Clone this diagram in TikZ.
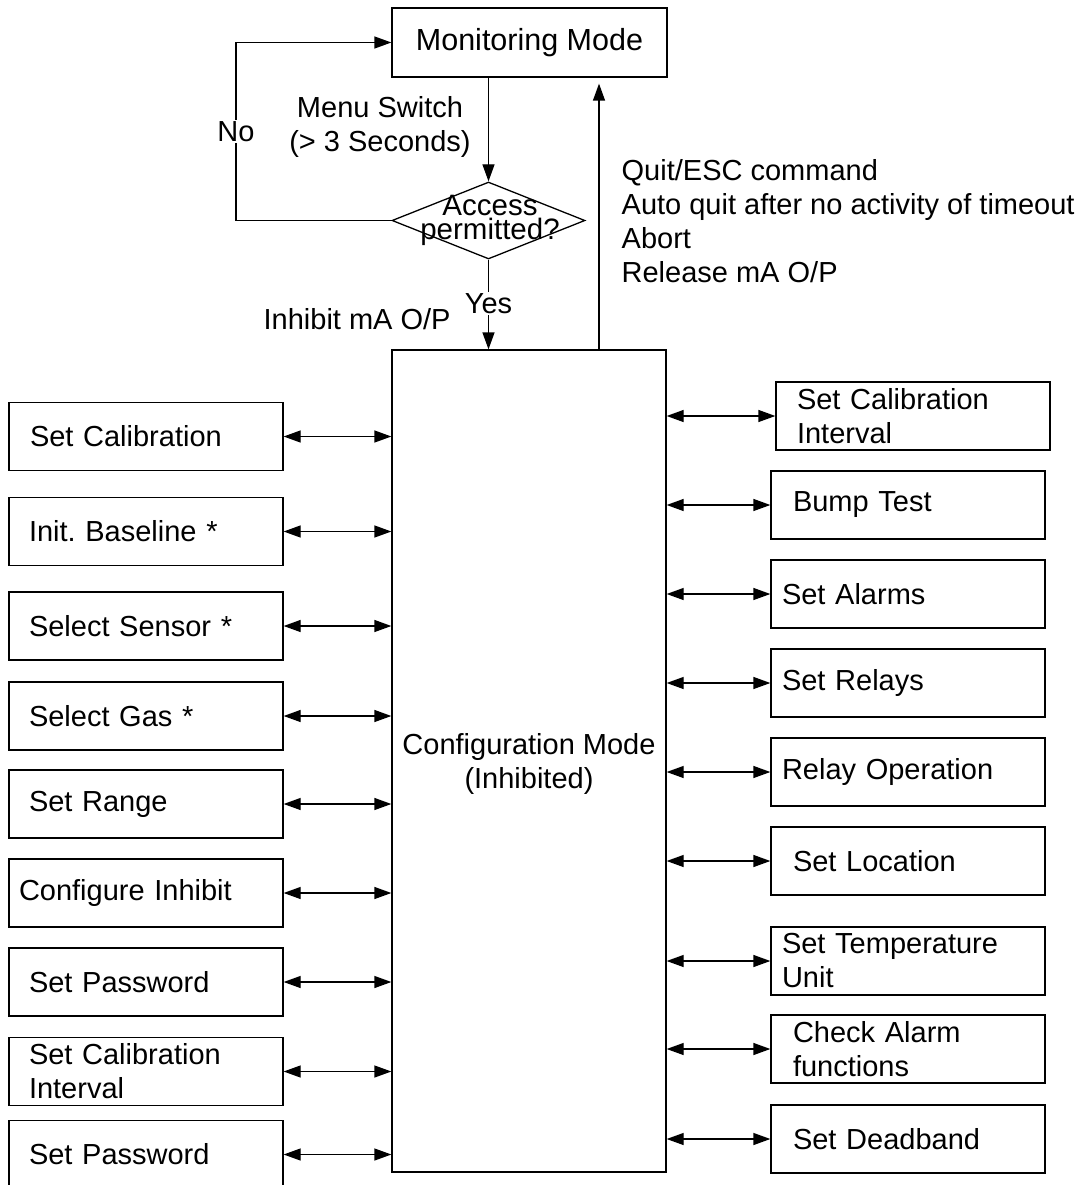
\documentclass[tikz,border=0pt]{standalone}
\usepackage{fontspec}
\setmainfont{Liberation Sans}
\usetikzlibrary{arrows.meta,shapes.geometric}
\frenchspacing
\begin{document}
\begin{tikzpicture}[x=1pt,y=-1pt,
  font=\fontsize{29}{34}\selectfont,
  line width=1.3pt,
  arr/.tip={Triangle[length=17pt,width=12pt]},
  box/.style={draw, rectangle, minimum height=68pt, align=left},
  lbl/.style={inner sep=1pt, fill=white}
]
\useasboundingbox (0,0) rectangle (1079,1185);

% top part
\node[draw, minimum width=275pt, minimum height=69pt, font=\fontsize{30.5}{34}\selectfont] (mon) at (529.5,42.5) {Monitoring Mode};
\node[draw, diamond, minimum width=193pt, minimum height=77pt, inner sep=0pt] (dec) at (488.5,220.5) {};
\node[align=center, font=\fontsize{29.5}{24}\selectfont, inner sep=0pt] (dect) at (490,220) {Access\\permitted?};
\node[draw, minimum width=274pt, minimum height=822pt] (cfg) at (529,761) {};
\node[align=center] (cfgt) at (529,764) {Configuration Mode\\(Inhibited)};

\node[align=center] (menu) at (380,127) {Menu Switch\\(> 3 Seconds)};
\node[anchor=west, inner sep=0pt] (inh) at (263,319) {Inhibit mA O/P};
\node[anchor=north west, align=left, inner sep=0pt] (quit) at (621,159) {Quit/ESC command\\Auto quit after no activity of timeout\\Abort\\Release mA O/P};

\coordinate (nocorner) at (236,220.5);
\draw[-arr] (dec.north |- mon.south) -- (dec.north);
\draw[-arr] (dec.west) -- (nocorner) |- node[lbl, pos=0.25] {No} (mon.west);
\draw[-arr] (dec.south) -- node[lbl, pos=0.5, yshift=1pt] {Yes} (dec.south |- cfg.north);
\draw[-arr, shorten >=6pt] ([xshift=70pt]cfg.north) -- ([xshift=70pt]cfg.north |- mon.south);

% left boxes
\node[box, inner xsep=21pt, text width=232pt] (l1) at (146,436.5) {Set Calibration};
\node[box, inner xsep=20pt, text width=234pt] (l2) at (146,531.5) {Init. Baseline *};
\node[box, inner xsep=20pt, text width=234pt] (l3) at (146,626) {Select Sensor *};
\node[box, inner xsep=20pt, text width=234pt] (l4) at (146,716) {Select Gas *};
\node[box, inner xsep=20pt, text width=234pt] (l5) at (146,804) {Set Range};
\node[box, inner xsep=10pt, text width=254pt] (l6) at (146,893) {Configure Inhibit};
\node[box, inner xsep=20pt, text width=234pt] (l7) at (146,982) {Set Password};
\node[box, inner xsep=20pt, text width=234pt] (l8) at (146,1071.5) {Set Calibration\\Interval};
\node[box, inner xsep=20pt, text width=234pt] (l9) at (146,1154.5) {Set Password};

\foreach \n in {l1,l2,l3,l4,l5,l6,l7,l8,l9}
  \draw[arr-arr] (\n.east) -- (\n.east -| cfg.west);

% right boxes
\node[box, inner xsep=21pt, text width=232pt] (r1) at (913,416) {Set Calibration\\Interval};
\node[box, inner xsep=22pt, text width=230pt] (r2) at (908,505) {Bump Test};
\node[box, inner xsep=11pt, text width=252pt] (r3) at (908,594) {Set Alarms};
\node[box, inner xsep=11pt, text width=252pt] (r4) at (908,683) {Set Relays};
\node[box, inner xsep=11pt, text width=252pt] (r5) at (908,772) {Relay Operation};
\node[box, inner xsep=22pt, text width=230pt] (r6) at (908,861) {Set Location};
\node[box, inner xsep=11pt, text width=252pt] (r7) at (908,961) {Set Temperature\\Unit};
\node[box, inner xsep=22pt, text width=230pt] (r8) at (908,1049) {Check Alarm\\functions};
\node[box, inner xsep=22pt, text width=230pt] (r9) at (908,1139) {Set Deadband};

\foreach \n in {r1,r2,r3,r4,r5,r6,r7,r8,r9}
  \draw[arr-arr] (cfg.east |- \n.west) -- (\n.west);
\end{tikzpicture}
\end{document}
